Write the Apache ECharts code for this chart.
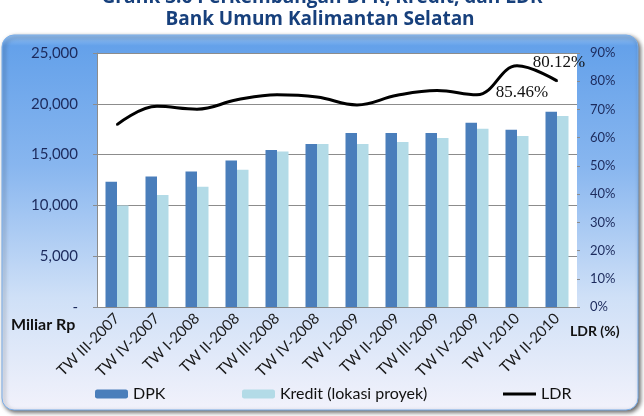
<!DOCTYPE html>
<html><head><meta charset="utf-8">
<script src="https://cdn.jsdelivr.net/npm/echarts@6/dist/echarts.min.js"></script>
<style>html,body{margin:0;padding:0;background:#fff}#c{width:644px;height:416px}</style>
</head><body><div id="c"></div>
<script>
const categories = ['TW III-2007','TW IV-2007','TW I-2008','TW II-2008','TW III-2008','TW IV-2008','TW I-2009','TW II-2009','TW III-2009','TW IV-2009','TW I-2010','TW II-2010'];
const dpk    = [12330, 12850, 13340, 14430, 15450, 16040, 17120, 17120, 17120, 18135, 17450, 19220];
const kredit = [10000, 11020, 11840, 13510, 15310, 16040, 16040, 16240, 16630, 17545, 16830, 18795];
const ldr    = [64.6, 71.1, 70.1, 73.4, 75.2, 74.4, 71.6, 75.0, 76.7, 75.2, 85.46, 80.12];
const ldrLabelled = [10, 11];
const leftAxisMax = 25000, leftAxisStep = 5000;
const rightAxisMax = 90, rightAxisStep = 10;
const titleLines = ['Grafik 3.6 Perkembangan DPK, Kredit, dan LDR', 'Bank Umum Kalimantan Selatan'];

const FONT = 'Lato, "Open Sans", sans-serif';
const TITLE_FONT = '"Open Sans", Lato, sans-serif';
const chart = echarts.init(document.getElementById('c'), null, {renderer: 'canvas'});

const ldrData = ldr.map((v, i) => {
  if (ldrLabelled.indexOf(i) < 0) return v;
  const below = (i === 10);
  return {
    value: v,
    label: {
      show: true,
      position: below ? 'bottom' : 'top',
      distance: below ? 17 : 9,
      offset: below ? [5, 0] : [2, 0],
      formatter: p => Number(p.value).toFixed(2) + '%',
      fontFamily: '"Liberation Serif", serif',
      fontSize: 17,
      color: '#111'
    }
  };
});

const legendText = {fontFamily: FONT, fontSize: 16, color: '#111'};

chart.setOption({
  animation: false,
  backgroundColor: '#ffffff',
  graphic: [
    {
      type: 'rect', z: -10,
      shape: {x: 2, y: 35, width: 636, height: 375, r: 12},
      style: {
        fill: new echarts.graphic.LinearGradient(0, 0, 0, 1, [
          {offset: 0, color: '#9cc6f4'},
          {offset: 0.03, color: '#64a1ea'},
          {offset: 0.35, color: '#88b6ef'},
          {offset: 0.7, color: '#cfe0f7'},
          {offset: 1, color: '#f2f2fb'}
        ]),
        stroke: '#7aaeea', lineWidth: 1,
        shadowColor: 'rgba(0,0,0,0.6)', shadowBlur: 4, shadowOffsetX: 2, shadowOffsetY: 2
      }
    },
    {
      type: 'text', z: 10, x: 322, y: -2,
      style: {text: titleLines[0], textAlign: 'center', textVerticalAlign: 'middle',
              font: 'bold 19px ' + TITLE_FONT, fill: '#17407c'}
    },
    {
      type: 'text', z: 10, x: 320, y: 20,
      style: {text: titleLines[1], textAlign: 'center', textVerticalAlign: 'middle',
              font: 'bold 19px ' + TITLE_FONT, fill: '#17407c'}
    },
    {
      type: 'text', z: 10, x: 11, y: 325,
      style: {text: 'Miliar Rp', textAlign: 'left', textVerticalAlign: 'middle',
              font: 'bold 16px ' + FONT, fill: '#111'}
    },
    {
      type: 'text', z: 10, x: 570, y: 331,
      style: {text: 'LDR (%)', textAlign: 'left', textVerticalAlign: 'middle',
              font: 'bold 14px ' + FONT, fill: '#111'}
    }
  ],
  grid: {left: 97, right: 67, top: 53, bottom: 109, show: true, backgroundColor: '#ffffff', borderWidth: 0},
  legend: [
    {data: ['DPK'], left: 90, top: 381, itemWidth: 33, itemHeight: 9, textStyle: legendText},
    {data: ['Kredit (lokasi proyek)'], left: 237, top: 381, itemWidth: 33, itemHeight: 9, textStyle: legendText},
    {data: [{name: 'LDR', icon: 'rect'}], left: 498, top: 381, itemWidth: 33, itemHeight: 3, textStyle: legendText}
  ],
  xAxis: {
    type: 'category', data: categories,
    axisLine: {show: true, lineStyle: {color: '#8c8c8c'}},
    axisTick: {show: false},
    axisLabel: {rotate: 45, interval: 0, margin: 9, fontFamily: FONT, fontSize: 15, color: '#1a1a1a'}
  },
  yAxis: [
    {
      type: 'value', min: 0, max: leftAxisMax, interval: leftAxisStep, position: 'left',
      axisLine: {show: true, lineStyle: {color: '#8c8c8c'}},
      axisTick: {show: true, length: 4, lineStyle: {color: '#8c8c8c'}},
      splitLine: {show: true, lineStyle: {color: '#8c8c8c'}},
      axisLabel: {formatter: v => v === 0 ? '-' : v.toLocaleString('en-US'), margin: 19,
                  fontFamily: FONT, fontSize: 15, color: '#1c2a5c'}
    },
    {
      type: 'value', min: 0, max: rightAxisMax, interval: rightAxisStep, position: 'right',
      axisLine: {show: false},
      axisTick: {show: true, length: 3, lineStyle: {color: '#8c8c8c'}},
      splitLine: {show: false},
      axisLabel: {formatter: '{value}%', margin: 13, fontFamily: FONT, fontSize: 13, color: '#1c2a5c'}
    }
  ],
  series: [
    {name: 'DPK', type: 'bar', data: dpk, barWidth: 11.5, barGap: '0%',
     itemStyle: {color: '#4a7ebb'}},
    {name: 'Kredit (lokasi proyek)', type: 'bar', data: kredit, barWidth: 11.5, barGap: '0%',
     itemStyle: {color: '#b3dbe7'}},
    {name: 'LDR', type: 'line', yAxisIndex: 1, data: ldrData, smooth: 0.4,
     symbol: 'circle', symbolSize: 2, showSymbol: true,
     lineStyle: {color: '#000', width: 3}, itemStyle: {color: '#000'}}
  ]
});
</script>
</body></html>
